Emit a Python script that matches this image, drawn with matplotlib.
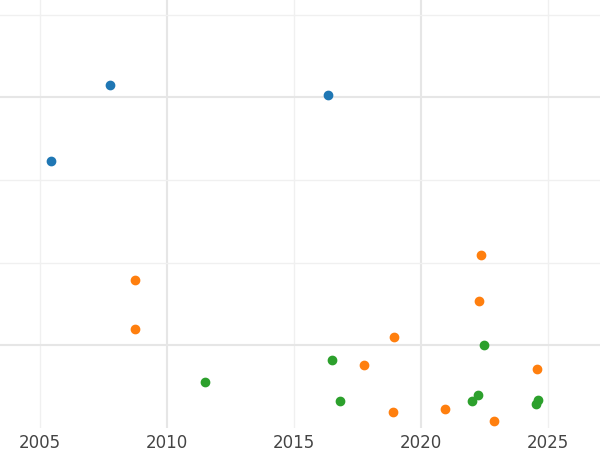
import matplotlib
matplotlib.use("Agg")
import matplotlib.pyplot as plt

blue_x = [2005.44, 2007.76, 2016.34]
blue_y = [3.23, 4.15, 4.03]
orange_x = [2008.74, 2008.74, 2022.37, 2022.29, 2018.94, 2017.76, 2024.57, 2020.95, 2018.90, 2022.88]
orange_y = [1.79, 1.20, 2.09, 1.54, 1.10, 0.76, 0.71, 0.23, 0.19, 0.08]
green_x = [2011.5, 2016.5, 2016.82, 2022.49, 2022.25, 2022.01, 2024.61, 2024.53]
green_y = [0.56, 0.82, 0.33, 1.00, 0.40, 0.33, 0.34, 0.29]

fig = plt.figure(figsize=(6, 4.5), dpi=100)
ax = fig.add_axes([0, 0.049, 1, 0.951])
ax.set_xlim(2003.43, 2027.05)
ax.set_ylim(0, 5.18)

for x in [2005, 2015, 2025]:
    ax.axvline(x, color="#f0f0f0", lw=1, zorder=0)
for x in [2010, 2020]:
    ax.axvline(x, color="#e6e6e6", lw=1.5, zorder=0)
for y in [2, 3, 5]:
    ax.axhline(y, color="#f0f0f0", lw=1, zorder=0)
for y in [1, 4]:
    ax.axhline(y, color="#e6e6e6", lw=1.5, zorder=0)

ax.scatter(blue_x, blue_y, s=36, color="#1f77b4", zorder=3)
ax.scatter(orange_x, orange_y, s=36, color="#ff7f0e", zorder=3)
ax.scatter(green_x, green_y, s=36, color="#2ca02c", zorder=3)

ax.set_xticks([2005, 2010, 2015, 2020, 2025])
ax.set_yticks([])
ax.tick_params(axis="x", length=0, labelsize=12, labelcolor="#444444", pad=4)
for s in ax.spines.values():
    s.set_visible(False)

fig.savefig("out.png")
